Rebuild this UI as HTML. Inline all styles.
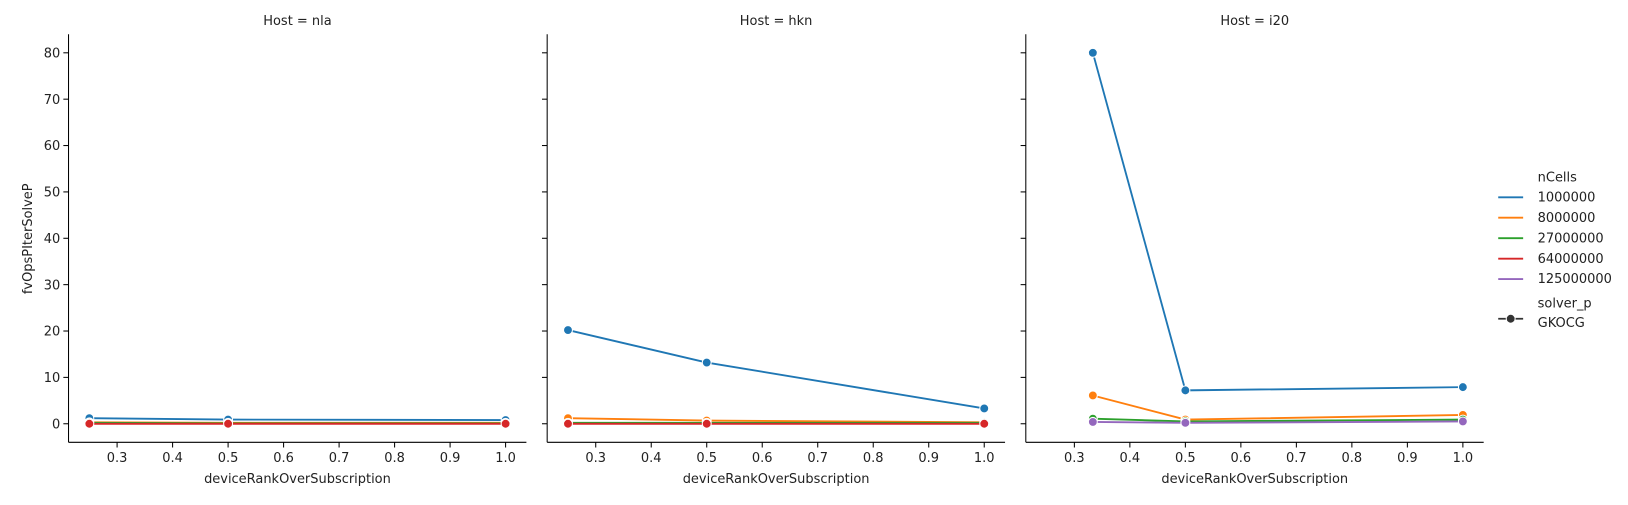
<!DOCTYPE html>
<html><head><meta charset="utf-8">
<style>
body{margin:0;background:#fff;font-family:"Liberation Sans","DejaVu Sans",sans-serif;}
svg text{font-family:"DejaVu Sans","Liberation Sans",sans-serif;font-size:12.5px;fill:#222;}
</style></head>
<body>
<svg id="chart" width="1628" height="500"><g id="root" transform="scale(1.03827)"></g></svg>
<script>
const hosts = ["nla","hkn","i20"];
const seriesNames = ["1000000","8000000","27000000","64000000","125000000"];
const colors = ["#1f77b4","#ff7f0e","#2ca02c","#d62728","#9467bd"];
const xNla = [0.25,0.5,1.0];
const xHkn = [0.25,0.5,1.0];
const xI20 = [0.3333,0.5,1.0];
const nla1M = [1.2,0.9,0.8], nla8M=[0.3,0.2,0.2], nla27M=[0.2,0.1,0.1], nla64M=[0.0,0.0,0.0];
const hkn1M = [20.2,13.2,3.3], hkn8M=[1.2,0.7,0.3], hkn27M=[0.2,0.2,0.2], hkn64M=[0.0,0.0,0.0];
const i201M = [80.0,7.2,7.9], i208M=[6.1,0.9,1.9], i2027M=[1.1,0.5,0.9], i20125M=[0.4,0.2,0.5];
const yTicks = [0,10,20,30,40,50,60,70,80];
const xTicks = [0.3,0.4,0.5,0.6,0.7,0.8,0.9,1.0];
const panelData = [
  {x:xNla, s:[nla1M,nla8M,nla27M,nla64M,null]},
  {x:xHkn, s:[hkn1M,hkn8M,hkn27M,hkn64M,null]},
  {x:xI20, s:[i201M,i208M,i2027M,null,i20125M]}
];
(function(){
const svg=document.getElementById('root');
const NS="http://www.w3.org/2000/svg";
function mk(t,a,p){const e=document.createElementNS(NS,t);for(const k in a)e.setAttribute(k,a[k]);(p||svg).appendChild(e);return e;}
const pLeft=[66,527,988], pW=441, pTop=33, pBot=426;
const xmin=0.2125,xmax=1.0375,ymin=-4,ymax=84;
function sx(i,v){return pLeft[i]+(v-xmin)/(xmax-xmin)*pW;}
function sy(v){return pBot-(v-ymin)/(ymax-ymin)*(pBot-pTop);}
hosts.forEach((h,i)=>{
  const g=mk('g',{});
  
  
  const t=mk('text',{x:pLeft[i]+pW/2,y:24,'text-anchor':'middle'},g);t.textContent='Host = '+h;
  
  
  mk('line',{x1:pLeft[i],y1:pTop,x2:pLeft[i],y2:pBot,stroke:'#000','stroke-width':1},g);
  mk('line',{x1:pLeft[i],y1:pBot,x2:pLeft[i]+pW,y2:pBot,stroke:'#000','stroke-width':1},g);
  yTicks.forEach(v=>{
    mk('line',{x1:pLeft[i]-5,y1:sy(v),x2:pLeft[i],y2:sy(v),stroke:'#000'},g);
    if(i===0){const tt=mk('text',{x:pLeft[i]-8,y:sy(v)+4.5,'text-anchor':'end'},g);tt.textContent=v;}
  });
  xTicks.forEach(v=>{
    mk('line',{x1:sx(i,v),y1:pBot,x2:sx(i,v),y2:pBot+5,stroke:'#000'},g);
    const tt=mk('text',{x:sx(i,v),y:pBot+19,'text-anchor':'middle'},g);tt.textContent=v.toFixed(1);
  });
  const xl=mk('text',{x:pLeft[i]+pW/2,y:465,'text-anchor':'middle'},g);xl.textContent='deviceRankOverSubscription';
  
  
  const pd=panelData[i];
  pd.s.forEach((ser,k)=>{
    if(!ser)return;
    const pts=ser.map((v,j)=>sx(i,pd.x[j])+','+sy(v)).join(' ');
    const pl=mk('polyline',{points:pts,fill:'none',stroke:colors[k],'stroke-width':1.8},g);
    
    
    ser.forEach((v,j)=>{
      const c=mk('circle',{cx:sx(i,pd.x[j]),cy:sy(v),r:4.3,fill:colors[k],stroke:'#fff','stroke-width':1},g);
      
      
    });
  });
});
const yl=mk('text',{x:31,y:230,'text-anchor':'middle',transform:'rotate(-90 31 230)'});yl.textContent='fvOpsPIterSolveP';


const lg=mk('g',{});


let t=mk('text',{x:1481,y:175},lg);t.textContent='nCells';
seriesNames.forEach((n,k)=>{
  const y=194+k*19.7;
  const l=mk('line',{x1:1443,y1:y-4,x2:1467,y2:y-4,stroke:colors[k],'stroke-width':1.8},lg);
  
  
  const tx=mk('text',{x:1481,y:y},lg);tx.textContent=n;
});
t=mk('text',{x:1481,y:296},lg);t.textContent='solver_p';
mk('line',{x1:1443,y1:307,x2:1467,y2:307,stroke:'#333','stroke-width':1.8},lg);
mk('circle',{cx:1455,cy:307,r:4.3,fill:'#333',stroke:'#fff'},lg);
t=mk('text',{x:1481,y:315},lg);t.textContent='GKOCG';
})();
</script>
</body></html>
